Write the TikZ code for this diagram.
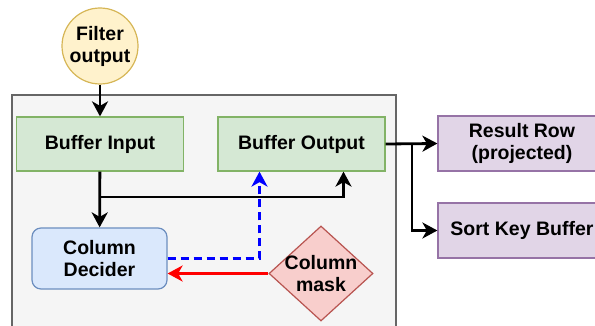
\documentclass[tikz,border=0pt]{standalone}
\usepackage{fontspec}
\setmainfont{Liberation Sans}
\usepackage{xcolor}
\usetikzlibrary{positioning,calc,arrows.meta,shapes.geometric}
\definecolor{framef}{HTML}{F5F5F5}
\definecolor{framed}{HTML}{666666}
\definecolor{bufff}{HTML}{D5E8D4}
\definecolor{buffd}{HTML}{82B366}
\definecolor{decf}{HTML}{DAE8FC}
\definecolor{decd}{HTML}{6C8EBF}
\definecolor{srcf}{HTML}{FFF2CC}
\definecolor{srcd}{HTML}{D6B656}
\definecolor{maskf}{HTML}{F8CECC}
\definecolor{maskd}{HTML}{B85450}
\definecolor{outf}{HTML}{E1D5E7}
\definecolor{outd}{HTML}{9673A6}
\definecolor{dashc}{HTML}{0000FF}
\definecolor{redc}{HTML}{FF0000}

\begin{document}
\begin{tikzpicture}[x=1pt, y=-1pt, font=\fontsize{19.5}{22}\selectfont\bfseries,
  box/.style={draw, line width=1.2pt, minimum width=167pt, minimum height=54pt, align=center, inner sep=0pt},
  flow/.style={line width=2.8pt, -{Stealth[length=15pt,width=16pt,inset=4.5pt]}},
  dashflow/.style={flow, color=dashc, dash pattern=on 8pt off 5pt},
  maskflow/.style={flow, color=redc}]
  \useasboundingbox (0,0) rectangle (595,326);
  % outer frame
  \node[draw=framed, fill=framef, line width=1.2pt, minimum width=384pt, minimum height=245pt, inner sep=0pt] (frame) at (204,217.5) {};
  \node[circle, draw=srcd, fill=srcf, line width=1.2pt, minimum size=76pt, inner sep=0pt, align=center] (filt) at (100,46) {Filter\\output};
  \node[box, draw=buffd, fill=bufff] (bin) at (100,144) {Buffer Input};
  \node[box, draw=buffd, fill=bufff] (bout) at (301.5,144) {Buffer Output};
  \node[box, draw=decd, fill=decf, rounded corners=9pt, minimum width=135pt, minimum height=61pt] (dec) at (99.5,258.5) {Column\\Decider};
  \node[diamond, draw=maskd, fill=maskf, line width=1.2pt, minimum width=104pt, minimum height=95pt, inner sep=0pt] (mask) at (321,273.5) {};
  \node[align=center] (maskt) at (321,273.5) {Column\\mask};
  \node[box, draw=outd, fill=outf, minimum width=168pt, minimum height=55pt] (res) at (522,143.5) {Result Row\\(projected)};
  \node[box, draw=outd, fill=outf, minimum width=168pt, minimum height=55pt] (skb) at (522,230.5) {Sort Key Buffer};
  % connectors
  \coordinate (split) at (100,197);
  \coordinate (fork) at (412,144);
  \draw[flow] (filt) -- (bin);
  \draw[flow] (bin) -- (dec);
  \draw[flow] (split) -| ($(bout.south)+(42,0)$);
  \draw[dashflow] (dec.east) -| ($(bout.south)+(-42,0)$);
  \draw[maskflow] (mask.west) -- (mask.west -| dec.east);
  \draw[flow] (bout.east) -- (res.west);
  \draw[flow] (fork) |- (skb.west);
\end{tikzpicture}
\end{document}
